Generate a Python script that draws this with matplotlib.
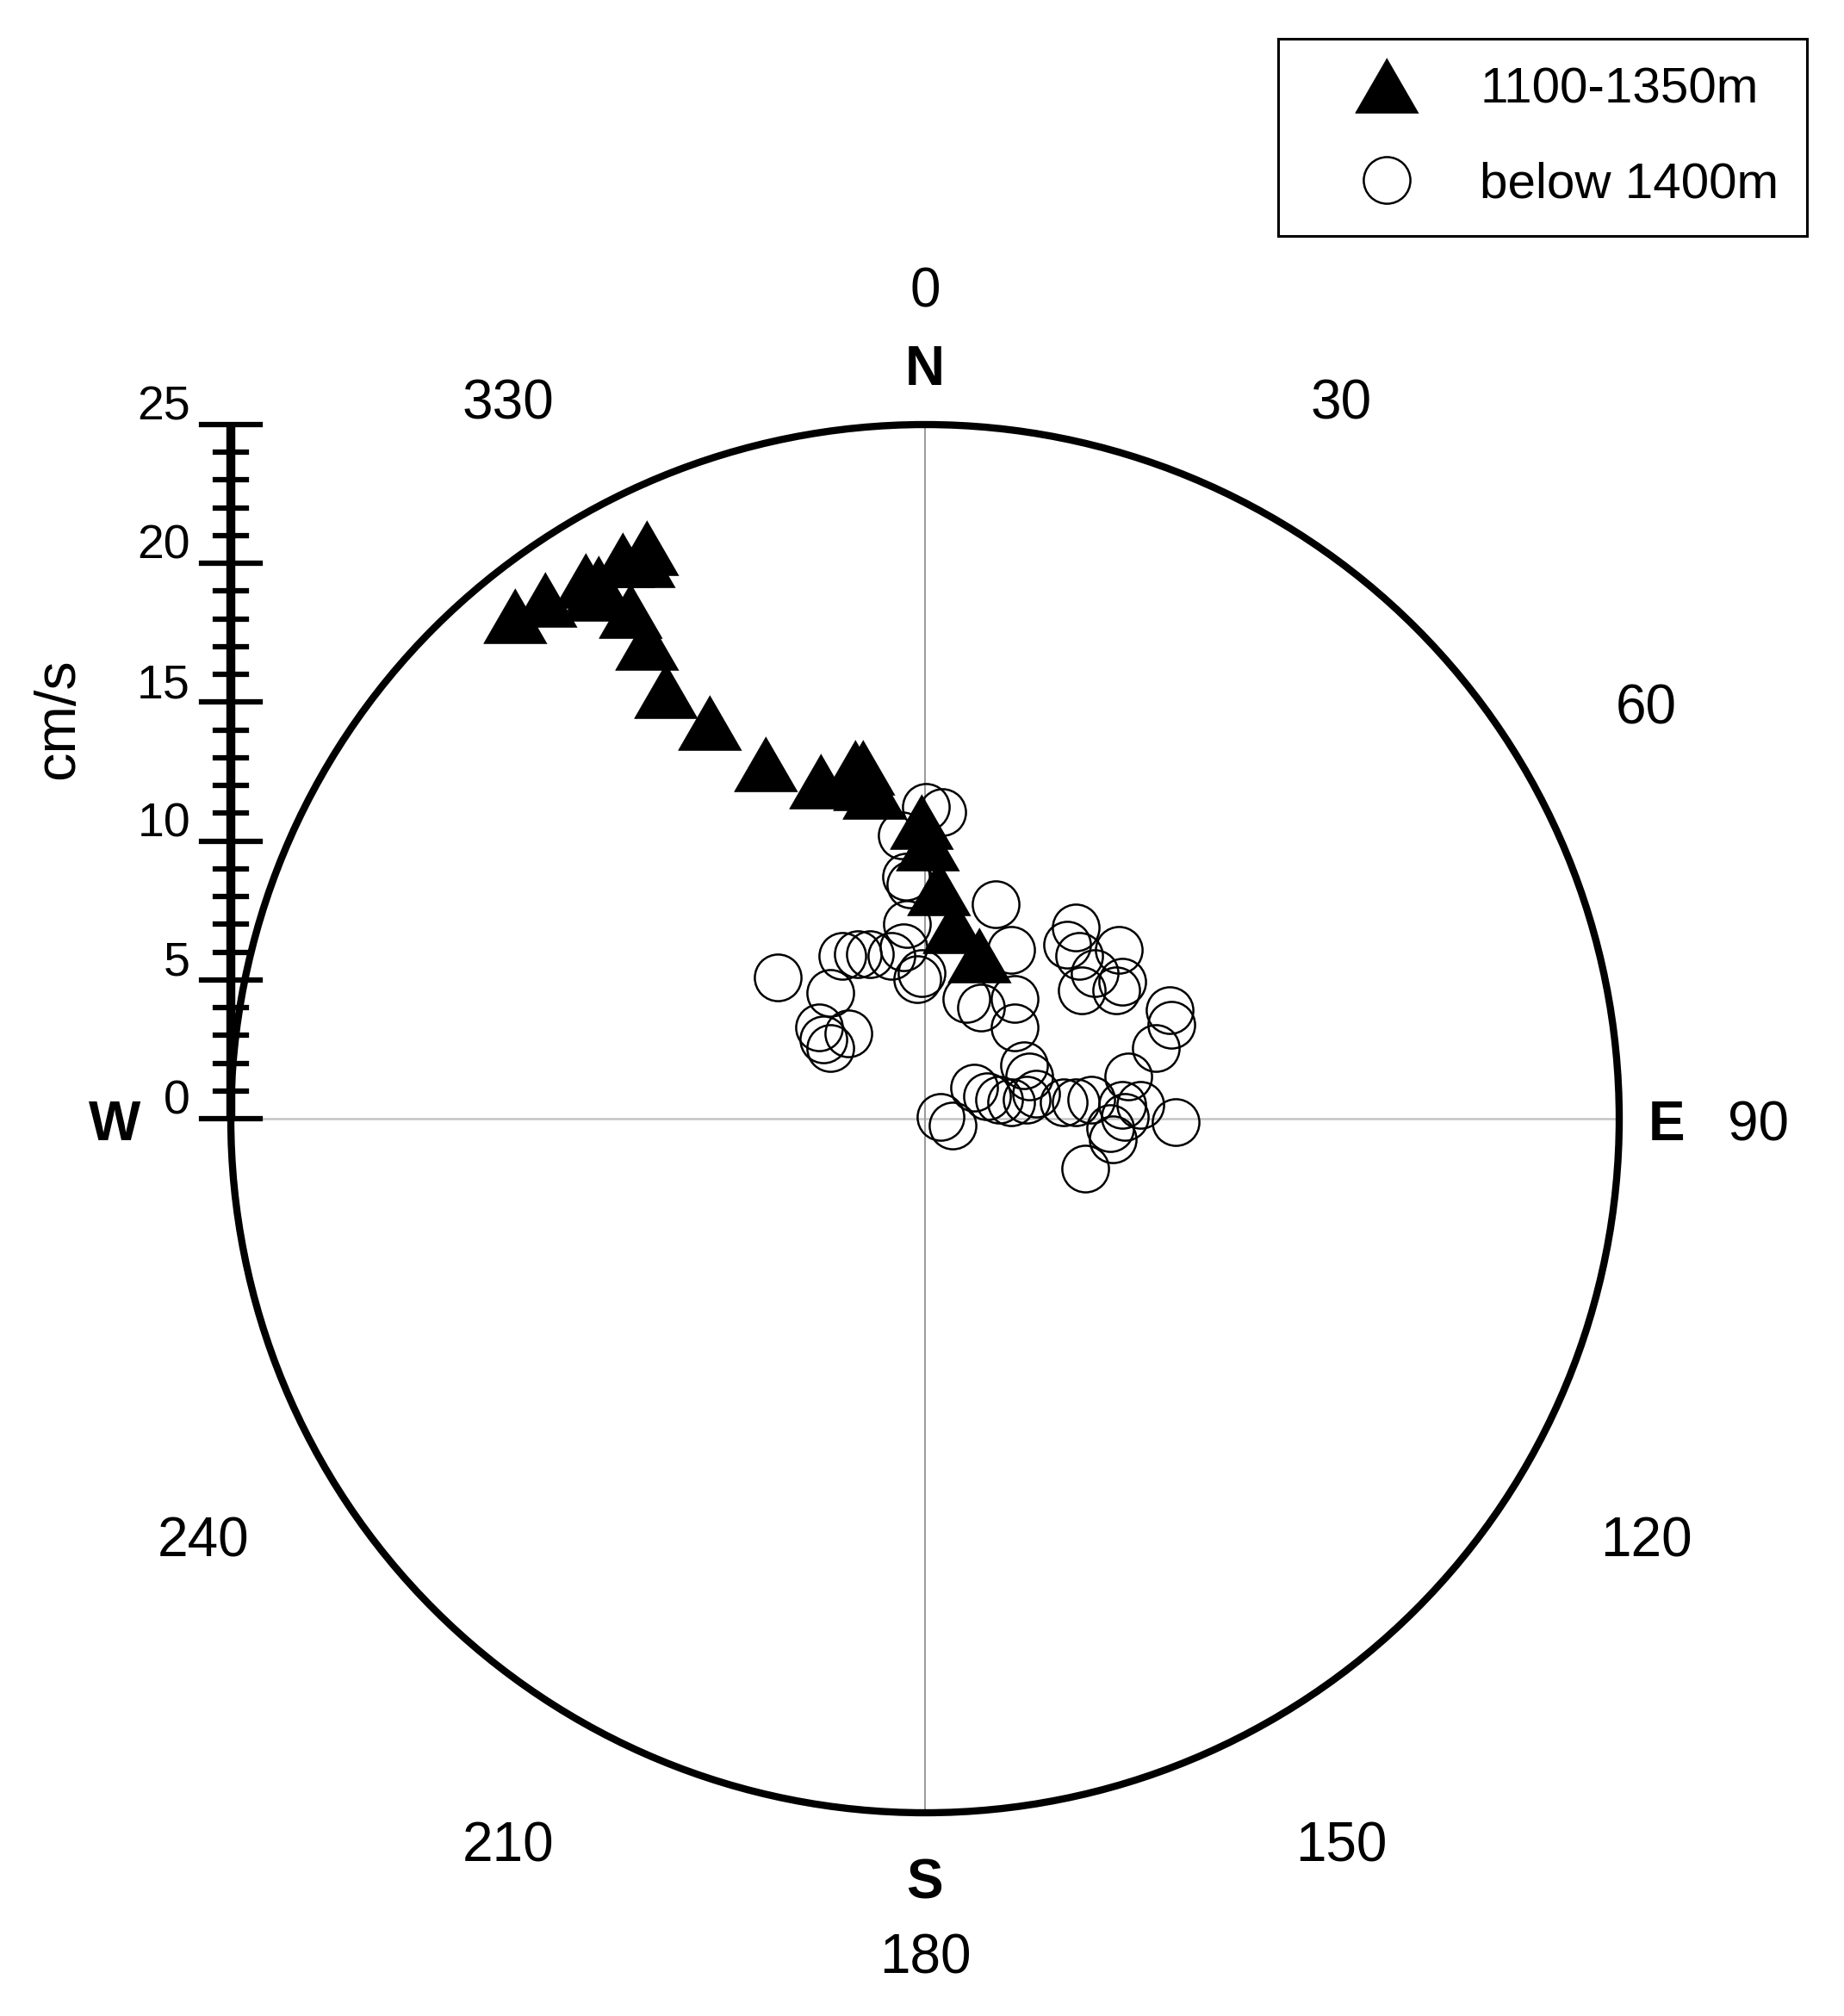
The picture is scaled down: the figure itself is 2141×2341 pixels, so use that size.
import numpy as np
import matplotlib
matplotlib.use("Agg")
import matplotlib.pyplot as plt
from matplotlib.patches import Circle

plt.rcParams['font.family'] = ['Liberation Sans', 'DejaVu Sans']

# velocity components (cm/s), east and north
tri_east = [-14.76, -13.68, -12.22, -11.91, -11.76, -10.89, -10.02, -10.14, -10.61,
            -10.02, -9.34, -7.75, -5.74, -3.75, -2.51, -2.23, -2.17, -1.83,
            -0.12, 0.09, 0.50, 1.05, 1.95]
tri_north = [18.11, 18.70, 19.39, 18.92, 19.29, 20.13, 20.56, 20.13, 18.30,
             17.15, 15.42, 14.27, 12.78, 12.16, 12.66, 12.66, 12.10, 11.79,
             10.70, 9.93, 8.31, 6.95, 5.89]

circ_east = [0.03, 0.62, -0.84, -0.68, -0.53, 2.54, -0.65, -0.78, -1.21, -0.28, -0.12,
             -5.30, -2.98, -2.42, -1.99, -3.41, -3.82, -3.66, -2.76, -3.41,
             3.10, 1.49, 2.02, 3.23, 3.23,
             5.43, 5.12, 5.55, 6.98, 6.11, 5.65, 7.10, 6.89,
             8.81, 8.87, 8.31, 7.32,
             3.57, 3.75, 1.77, 2.23, 2.67, 3.10, 3.66, 4.00, 4.99, 5.43, 5.99,
             7.10, 7.75, 6.67, 6.76, 9.03, 5.77, 0.56, 0.99, 7.20]
circ_north = [11.23, 11.04, 10.20, 8.72, 8.44, 7.72, 7.01, 6.17, 5.86, 5.02, 5.24,
              5.09, 5.86, 5.92, 5.92, 4.53, 3.29, 2.85, 3.07, 2.54,
              6.08, 4.31, 4.00, 4.31, 3.29,
              6.89, 6.27, 5.86, 6.08, 5.24, 4.62, 4.93, 4.62,
              3.91, 3.38, 2.54, 1.52,
              1.92, 1.52, 1.12, 0.81, 0.68, 0.59, 0.68, 0.90, 0.59, 0.59, 0.68,
              0.50, 0.50, -0.34, -0.74, -0.12, -1.80, 0.06, -0.25, 0.06]

series_labels = ["1100-1350m", "below 1400m"]
angle_labels = [0, 30, 60, 90, 120, 150, 180, 210, 240, 330]
compass = {"N": 0, "E": 90, "S": 180, "W": 270}
scale_max = 25

fig = plt.figure(figsize=(21.41, 23.41), dpi=100)
ax = fig.add_axes([0, 0, 1, 1])
ppu = 32.24  # pixels per cm/s
cx, cy = 1074, 1299
ax.set_xlim(-cx / ppu, (2141 - cx) / ppu)
ax.set_ylim((cy - 2341) / ppu, cy / ppu)
ax.axis('off')

# crosshair and outer ring
ax.plot([-scale_max, scale_max], [0, 0], color='#c4c4c4', lw=1.8, zorder=1)
ax.plot([0, 0], [-scale_max, scale_max], color='#9a9a9a', lw=1.4, zorder=1)
ax.add_patch(Circle((0, 0), scale_max, fill=False, lw=6, ec='black', zorder=5))

# speed scale bar on the west side
ax.plot([-scale_max, -scale_max], [0, scale_max], color='black', lw=7.5, zorder=6,
        solid_capstyle='butt')
for i in range(scale_max + 1):
    half = 1.05 if i % 5 == 0 else 0.57
    ax.plot([-scale_max - half, -scale_max + half], [i, i], color='black', lw=4.5, zorder=6)
    if i % 5 == 0:
        ax.text(-26.46, i + 0.6, str(i), ha='right', va='center', fontsize=40)
ax.text(-31.2, 14.4, "cm/s", rotation=90, ha='center', va='center', fontsize=48)

# angle labels
off = -0.25
for a in angle_labels:
    t = np.deg2rad(a)
    ax.text(30 * np.sin(t), 30 * np.cos(t) + off, str(a), ha='center', va='center', fontsize=46)
compass_r = {"N": 27.2, "E": 26.7, "S": 27.3, "W": 29.2}
for k, a in compass.items():
    t = np.deg2rad(a)
    ax.text(compass_r[k] * np.sin(t), compass_r[k] * np.cos(t) + off, k, ha='center',
            va='center', fontsize=46, fontweight='bold')

tri = [(0, 0.866), (-1, -0.866), (1, -0.866)]
h2, = ax.plot(circ_east, circ_north, ls='none', marker='o', ms=39, mfc='none',
              mec='black', mew=1.8, zorder=3, label=series_labels[1])
h1, = ax.plot(tri_east, tri_north, ls='none', marker=tri, ms=53, mfc='black',
              mec='black', mew=0.5, zorder=4, label=series_labels[0])

leg = ax.legend(handles=[h1, h2], loc='upper right', fontsize=42,
                bbox_to_anchor=(2098 / 2141, 1 - 45 / 2341), bbox_transform=fig.transFigure,
                borderaxespad=0, borderpad=0.56, handlelength=3.19, handletextpad=0.26,
                labelspacing=0.96, fancybox=False, framealpha=1, edgecolor='black')
leg.get_frame().set_linewidth(2.2)

fig.savefig("out.png", dpi=100)
